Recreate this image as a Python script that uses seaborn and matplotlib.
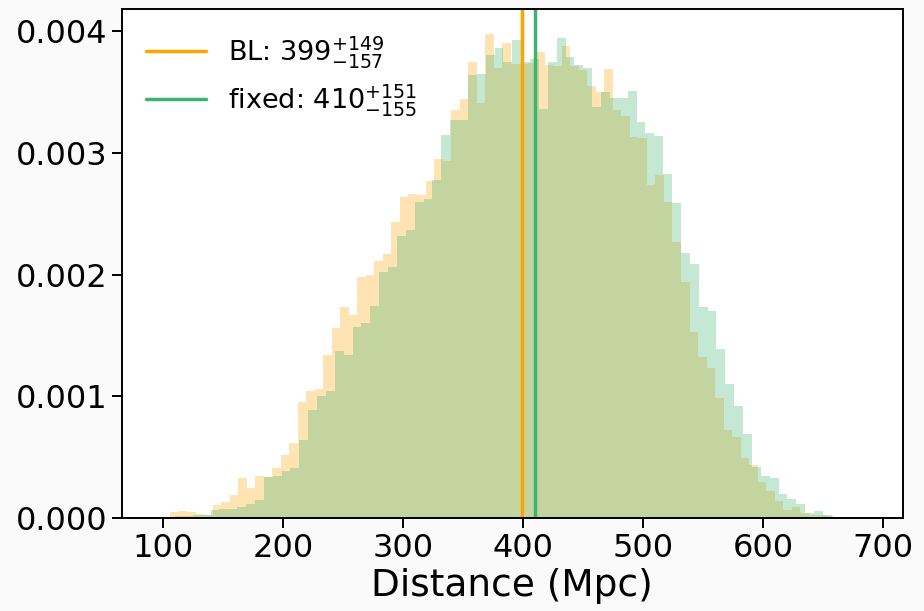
import numpy as np
import pandas as pd
import matplotlib
matplotlib.use("Agg")
import matplotlib.pyplot as plt
import seaborn as sns
from matplotlib.ticker import FormatStrFormatter

# ---- data ----
bl_range = (105.6, 673.6)      # Mpc, 80 bins
fixed_range = (95.0, 687.0)    # Mpc, 80 bins

bl_density = [  # x 1e-3
    0.049, 0.057, 0.047, 0.038, 0.027, 0.107, 0.134, 0.189, 0.331, 0.244,
    0.345, 0.334, 0.408, 0.518, 0.620, 0.950, 1.040, 1.060, 1.340, 1.560,
    1.730, 1.670, 1.980, 2.000, 2.110, 2.170, 2.430, 2.640, 2.660, 2.650,
    2.770, 2.950, 2.930, 3.350, 3.440, 3.750, 3.410, 3.980, 3.700, 3.900,
    3.730, 3.730, 3.740, 3.830, 3.720, 3.710, 3.880, 3.710, 3.680, 3.550,
    3.500, 3.690, 3.350, 3.300, 3.130, 3.120, 2.740, 2.820, 2.600, 2.270,
    1.940, 1.530, 1.320, 1.230, 0.990, 0.720, 0.670, 0.490, 0.440, 0.300,
    0.220, 0.140, 0.070, 0.090, 0.040, 0.025, 0.025, 0.020, 0.008, 0.008,
]
fixed_density = [  # x 1e-3
    0.012, 0.012, 0.015, 0.020, 0.024, 0.022, 0.066, 0.074, 0.079, 0.093,
    0.112, 0.148, 0.334, 0.350, 0.385, 0.410, 0.640, 0.890, 1.000, 1.040,
    1.370, 1.340, 1.570, 1.600, 1.740, 2.020, 2.060, 2.320, 2.370, 2.600,
    2.620, 2.780, 3.150, 3.270, 3.270, 3.640, 3.650, 3.800, 3.860, 3.750,
    3.930, 3.750, 3.770, 3.360, 3.750, 3.940, 3.790, 3.720, 3.700, 3.380,
    3.500, 3.450, 3.450, 3.510, 3.250, 3.160, 3.140, 2.830, 2.590, 2.180,
    2.090, 1.730, 1.700, 1.390, 1.100, 0.920, 0.690, 0.420, 0.350, 0.330,
    0.200, 0.160, 0.120, 0.045, 0.055, 0.025, 0.012, 0.010, 0.008, 0.006,
]
bl_median, bl_plus, bl_minus = 399, 149, 157
fixed_median, fixed_plus, fixed_minus = 410, 151, 155

# ---- plot ----
sns.set_style("ticks")
plt.rcParams["font.family"] = ["DejaVu Sans"]
plt.rcParams["mathtext.fontset"] = "dejavusans"
for key in ("text.color", "axes.labelcolor", "xtick.color", "ytick.color",
            "axes.edgecolor"):
    plt.rcParams[key] = "black"

fig = plt.figure(figsize=(9.24, 6.11), dpi=100, facecolor="#fafafa")
ax = fig.add_axes([0.132, 0.152, 0.845, 0.833])
ax.set_facecolor("white")

orange = "#ffa500"
green = "#3cb371"

def draw(rng, dens, color):
    n = len(dens)
    width = (rng[1] - rng[0]) / n
    df = pd.DataFrame({
        "d": rng[0] + width * (np.arange(n) + 0.5),
        "w": np.asarray(dens, dtype=float) * 1e-3,
    })
    sns.histplot(data=df, x="d", weights="w", bins=n, binrange=rng,
                 element="step", fill=True, alpha=0.3, linewidth=0,
                 color=color, ax=ax)

draw(bl_range, bl_density, orange)
draw(fixed_range, fixed_density, green)

ax.axvline(bl_median, color=orange, lw=2.5,
           label=rf"BL: ${bl_median}^{{+{bl_plus}}}_{{-{bl_minus}}}$")
ax.axvline(fixed_median, color=green, lw=2.5,
           label=rf"fixed: ${fixed_median}^{{+{fixed_plus}}}_{{-{fixed_minus}}}$")

ax.set_xlim(65.5, 716.5)
ax.set_ylim(0, 0.00418)
ax.set_xticks([100, 200, 300, 400, 500, 600, 700])
ax.set_yticks([0, 0.001, 0.002, 0.003, 0.004])
ax.yaxis.set_major_formatter(FormatStrFormatter("%.3f"))
ax.set_xlabel("Distance (Mpc)", fontsize=27, labelpad=3)
ax.set_ylabel("")
ax.tick_params(axis="both", labelsize=23, length=7, width=1.4,
               direction="out", colors="black")
for s in ax.spines.values():
    s.set_linewidth(1.4)
    s.set_color("black")
    s.set_visible(True)

ax.legend(loc="upper left", frameon=False, fontsize=19.5, handlelength=2.2,
          handletextpad=0.8, borderaxespad=0.5, labelspacing=0.45)

fig.savefig("out.png", dpi=100, facecolor=fig.get_facecolor())
